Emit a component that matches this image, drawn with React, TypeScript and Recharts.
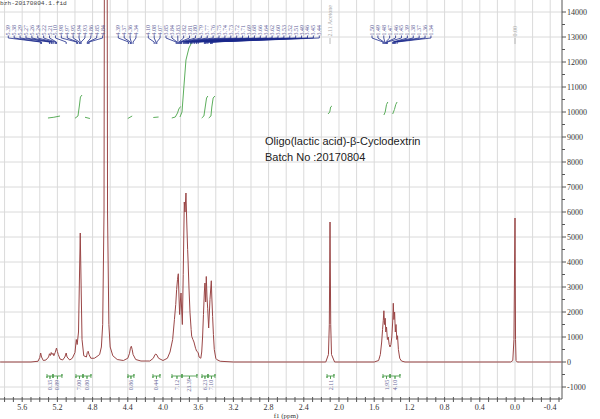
import React from 'react';
import { ComposedChart, Line, Scatter, XAxis, YAxis, CartesianGrid } from 'recharts';

// 1H NMR trace (ppm, descending)
const ppm = [
  5.85, 5.5, 5.42, 5.4, 5.39, 5.38, 5.36, 5.33, 5.3, 5.29, 5.28, 5.27, 5.26, 5.25, 5.24, 5.225,
  5.21, 5.2, 5.19, 5.17, 5.14, 5.115, 5.1, 5.09, 5.06, 5.03, 5.0, 4.985, 4.975, 4.96, 4.95,
  4.94, 4.93, 4.92, 4.9, 4.87, 4.86, 4.85, 4.84, 4.82, 4.78, 4.75, 4.72, 4.7, 4.685, 4.67,
  4.66, 4.65, 4.64, 4.63, 4.615, 4.6, 4.57, 4.52, 4.45, 4.4, 4.38, 4.37, 4.36, 4.35, 4.34,
  4.31, 4.25, 4.15, 4.11, 4.09, 4.08, 4.07, 4.05, 4.0, 3.95, 3.92, 3.89, 3.87, 3.855, 3.845,
  3.835, 3.826, 3.818, 3.811, 3.803, 3.795, 3.787, 3.78, 3.77, 3.758, 3.75, 3.739, 3.73, 3.72,
  3.716, 3.705, 3.693, 3.68, 3.674, 3.66, 3.648, 3.63, 3.617, 3.6, 3.59, 3.57, 3.56, 3.55,
  3.54, 3.53, 3.523, 3.515, 3.508, 3.5, 3.492, 3.481, 3.47, 3.466, 3.451, 3.445, 3.436, 3.427,
  3.417, 3.4, 3.39, 3.35, 3.2, 2.15, 2.12, 2.11, 2.102, 2.094, 2.085, 2.05, 1.6, 1.55, 1.53,
  1.515, 1.505, 1.497, 1.49, 1.483, 1.475, 1.468, 1.46, 1.45, 1.44, 1.43, 1.42, 1.41, 1.4,
  1.39, 1.383, 1.376, 1.368, 1.36, 1.352, 1.343, 1.335, 1.325, 1.31, 1.29, 1.25, 0.05, 0.025,
  0.012, 0.0, -0.006, -0.012, -0.025, -0.05, -0.53,
];
const intensity = [
  0, 0, 30, 180, 360, 200, 60, 80, 200, 330, 260, 380, 300, 350, 250, 380,
  560, 420, 300, 120, 80, 200, 360, 200, 80, 150, 380, 900, 700, 1200, 3200,
  5160, 3000, 900, 250, 200, 380, 430, 300, 150, 150, 220, 300, 600, 1500, 6000,
  30000, 60000, 30000, 6000, 1500, 600, 250, 100, 60, 150, 350, 550, 630, 500, 300,
  100, 40, 40, 150, 300, 320, 280, 150, 60, 150, 400, 900, 1700, 2300, 2900,
  3300, 3530, 2600, 1900, 2400, 2760, 2000, 1500, 3500, 6400, 6000, 6760, 5600, 4500,
  4160, 3000, 1970, 1300, 1030, 900, 800, 550, 430, 380, 200, 150, 400, 1000,
  1900, 2800, 3160, 2400, 3420, 2600, 2130, 1360, 2200, 2500, 3250, 2600, 1820, 1100,
  500, 150, 100, 30, 0, 0, 300, 1500, 5600, 1500, 300, 0, 0, 60, 300,
  800, 1300, 1650, 2050, 1500, 1750, 1200, 1400, 900, 1000, 700, 600, 700, 1000,
  1600, 2350, 1700, 2000, 1200, 1500, 900, 1050, 500, 150, 40, 0, 0, 60,
  900, 5760, 900, 60, 0, 0, 0,
];

// axis ticks
const xTicks = [
  5.8, 5.7, 5.6, 5.5, 5.4, 5.3, 5.2, 5.1, 5.0, 4.9, 4.8, 4.7, 4.6, 4.5, 4.4, 4.3, 4.2, 4.1,
  4.0, 3.9, 3.8, 3.7, 3.6, 3.5, 3.4, 3.3, 3.2, 3.1, 3.0, 2.9, 2.8, 2.7, 2.6, 2.5, 2.4, 2.3,
  2.2, 2.1, 2.0, 1.9, 1.8, 1.7, 1.6, 1.5, 1.4, 1.3, 1.2, 1.1, 1.0, 0.9, 0.8, 0.7, 0.6, 0.5,
  0.4, 0.3, 0.2, 0.1, 0.0, -0.1, -0.2, -0.3, -0.4, -0.5,
];
const gridPpm = [
  5.8, 5.6, 5.4, 5.2, 5.0, 4.8, 4.6, 4.4, 4.2, 4.0, 3.8, 3.6, 3.4, 3.2, 3.0, 2.8, 2.6, 2.4,
  2.2, 2.0, 1.8, 1.6, 1.4, 1.2, 1.0, 0.8, 0.6, 0.4, 0.2, 0.0, -0.2, -0.4,
];
const yTicks = [
  -1000, -500, 0, 500, 1000, 1500, 2000, 2500, 3000, 3500, 4000, 4500, 5000, 5500, 6000,
  6500, 7000, 7500, 8000, 8500, 9000, 9500, 10000, 10500, 11000, 11500, 12000, 12500, 13000,
  13500, 14000,
];
const gridY = [
  -1000, 0, 1000, 2000, 3000, 4000, 5000, 6000, 7000, 8000, 9000, 10000, 11000, 12000,
  13000, 14000,
];

// peak picking labels
const peakGroup1 = ['5.39', '5.38', '5.29', '5.27', '5.26', '5.24', '5.22', '5.21', '5.10', '4.98', '4.97', '4.95', '4.94', '4.93', '4.86', '4.85', '4.84'];
const peakGroup2 = ['4.39', '4.37', '4.36', '4.34'];
const peakGroup3 = ['4.10', '4.08', '4.07'];
const peakGroup4 = ['3.85', '3.84', '3.83', '3.82', '3.81', '3.80', '3.79', '3.77', '3.76', '3.75', '3.74', '3.73', '3.72', '3.71', '3.69', '3.68', '3.66', '3.64', '3.62', '3.60', '3.53', '3.52', '3.51', '3.49', '3.46', '3.45', '3.44'];
const peakGroup5 = ['1.50', '1.49', '1.48', '1.47', '1.46', '1.45', '1.39', '1.38', '1.37', '1.36', '1.34'];
const peakGroups = [peakGroup1, peakGroup2, peakGroup3, peakGroup4, peakGroup5];
// where each label column starts (ppm) and its spacing
const slotStarts = [5.758, 4.508, 4.167, 3.966, 1.625];
const slotStep = 0.067;

// single annotations
const noteText = ['2.11 Acetone', '0.00'];
const notePpm = [2.102, 0.0];

// integrals
const integralValues = ['0.35', '0.89', '7.00', '0.80', '0.86', '0.44', '7.12', '23.39', '6.23', '7.10', '2.11', '1.95', '4.10'];
const integralFrom = [5.318, 5.25, 4.989, 4.909, 4.398, 4.114, 3.898, 3.784, 3.557, 3.489, 2.136, 1.5, 1.42];
const integralTo = [5.25, 5.148, 4.909, 4.818, 4.33, 4.034, 3.784, 3.614, 3.489, 3.409, 2.057, 1.42, 1.307];

// integral traces [ppm, value]
const integralCurves = [
  [[5.307, 9760], [5.24, 9790], [5.17, 9840]],
  [[5.0, 9750], [4.966, 9840], [4.949, 10280], [4.938, 10600], [4.92, 10680]],
  [[4.886, 9790], [4.83, 9740]],
  [[4.4, 9740], [4.35, 9840]],
  [[4.11, 9780], [4.05, 9800]],
  [[3.9, 9760], [3.86, 9800], [3.835, 9960], [3.82, 10120], [3.8, 10220]],
  [[3.807, 9800], [3.784, 10000], [3.761, 11080], [3.739, 12080], [3.705, 12560], [3.659, 12880]],
  [[3.56, 9760], [3.535, 9840], [3.52, 10200], [3.505, 10560], [3.49, 10640]],
  [[3.48, 9760], [3.455, 9840], [3.445, 10200], [3.43, 10560], [3.41, 10640]],
  [[2.125, 9920], [2.105, 10000], [2.095, 10200], [2.08, 10240]],
  [[1.49, 9880], [1.475, 10000], [1.46, 10300], [1.445, 10400]],
  [[1.39, 9920], [1.37, 10100], [1.355, 10300], [1.34, 10400]],
];

const spectrum = ppm.map((p, i) => ({ x: p, y: intensity[i] }));

const SERIF = 'Liberation Serif';
const LABEL_Y = 13060;
const TICK_Y = 12960;
const MEET_Y = 12800;
const END_Y = 12720;
const BRACKET_Y = -560;

const XTick = (props: any) => {
  const { x, y, payload } = props;
  const v = payload.value as number;
  const major = Math.round(v * 10) % 4 === 0;
  return (
    <g>
      <line x1={x} x2={x} y1={y - 2} y2={y + 3} stroke="#555" strokeWidth={1} />
      {major && (
        <text x={x} y={y + 11} textAnchor="middle" fontSize={8} fontFamily={SERIF} fill="#333">
          {v.toFixed(1)}
        </text>
      )}
    </g>
  );
};

const YTick = (props: any) => {
  const { x, y, payload } = props;
  const v = payload.value as number;
  const major = v % 1000 === 0;
  return (
    <g>
      <line x1={x} x2={x + (major ? 4 : 3)} y1={y} y2={y} stroke="#555" strokeWidth={1} />
      {major && (
        <text x={x + 5} y={y} dy={3} fontSize={8} fontFamily={SERIF} fill="#333">
          {v}
        </text>
      )}
    </g>
  );
};

const VText = (color: string, size: number, anchor: string) => (p: any) => {
  const { cx, cy, payload } = p;
  if (cx == null || cy == null) return <g />;
  return (
    <text
      x={cx}
      y={cy}
      dy={2}
      transform={`rotate(-90 ${cx} ${cy})`}
      fontSize={size}
      fontFamily={SERIF}
      fill={color}
      textAnchor={anchor}
    >
      {payload.label}
    </text>
  );
};

const noShape = () => <g />;

export default function App() {
  const labelSeries: React.ReactNode[] = [];
  peakGroups.forEach((group, gi) => {
    const labelData = group.map((lab, i) => ({ x: slotStarts[gi] - i * slotStep, y: LABEL_Y, label: lab }));
    labelSeries.push(
      <Scatter
        key={`lab-${gi}`}
        data={labelData}
        shape={VText('#5a5a96', 6, 'start')}
        isAnimationActive={false}
      />
    );
    group.forEach((lab, i) => {
      const slot = slotStarts[gi] - i * slotStep;
      const peak = Number(lab);
      labelSeries.push(
        <Scatter
          key={`fan-${gi}-${i}`}
          data={[
            { x: slot, y: LABEL_Y },
            { x: slot, y: TICK_Y },
            { x: peak, y: MEET_Y },
            { x: peak, y: END_Y },
          ]}
          line={{ stroke: '#1c2a8c', strokeWidth: 0.8 }}
          shape={noShape}
          isAnimationActive={false}
        />
      );
    });
  });

  const noteSeries = noteText.map((t, i) => (
    <Scatter
      key={`note-${i}`}
      data={[{ x: notePpm[i], y: LABEL_Y - 40, label: t }]}
      shape={VText('#aaaaaa', 6, 'start')}
      isAnimationActive={false}
    />
  ));
  const noteLines = notePpm.map((p, i) => (
    <Scatter
      key={`noteline-${i}`}
      data={[{ x: p, y: TICK_Y }, { x: p, y: END_Y }]}
      line={{ stroke: '#aaaaaa', strokeWidth: 0.8 }}
      shape={noShape}
      isAnimationActive={false}
    />
  ));

  const brackets = integralValues.map((v, i) => {
    const a = integralFrom[i];
    const b = integralTo[i];
    const m = (a + b) / 2;
    return (
      <Scatter
        key={`br-${i}`}
        data={[
          { x: a, y: BRACKET_Y + 80 },
          { x: a, y: BRACKET_Y - 80 },
          { x: a, y: BRACKET_Y },
          { x: m, y: BRACKET_Y },
          { x: m, y: BRACKET_Y - 110 },
          { x: m, y: BRACKET_Y },
          { x: b, y: BRACKET_Y },
          { x: b, y: BRACKET_Y + 80 },
          { x: b, y: BRACKET_Y - 80 },
        ]}
        line={{ stroke: '#4e9e4e', strokeWidth: 0.9 }}
        shape={noShape}
        isAnimationActive={false}
      />
    );
  });
  const integralLabels = (
    <Scatter
      data={integralValues.map((v, i) => ({ x: (integralFrom[i] + integralTo[i]) / 2, y: -920, label: v }))}
      shape={VText('#6a6a9a', 6, 'middle')}
      isAnimationActive={false}
    />
  );

  return (
    <div style={{ position: 'absolute', left: 0, top: 0, width: 600, height: 419, background: '#fff' }}>
      <ComposedChart width={600} height={419} margin={{ top: 0, right: 0, bottom: 0, left: 0 }}>
        <CartesianGrid stroke="#dadada" strokeWidth={1} verticalValues={gridPpm} horizontalValues={gridY} />
        <XAxis
          dataKey="x"
          type="number"
          domain={[-0.534, 5.852]}
          reversed
          allowDataOverflow
          ticks={xTicks}
          interval={0}
          tick={<XTick />}
          tickLine={false}
          tickSize={0}
          tickMargin={0}
          height={20}
          axisLine={{ stroke: '#555' }}
          label={{ value: 'f1 (ppm)', position: 'insideBottom', offset: 1.5, dx: 5, fontSize: 7, fontFamily: SERIF, fill: '#333' }}
        />
        <YAxis
          dataKey="y"
          type="number"
          orientation="right"
          domain={[-1480, 14480]}
          allowDataOverflow
          ticks={yTicks}
          interval={0}
          tick={<YTick />}
          tickLine={false}
          tickSize={0}
          tickMargin={0}
          width={38}
          axisLine={{ stroke: '#555' }}
        />
        <Line
          data={spectrum}
          dataKey="y"
          type="linear"
          stroke="#9a4646"
          strokeWidth={1}
          dot={false}
          isAnimationActive={false}
        />
        {integralCurves.map((c, i) => (
          <Line
            key={`int-${i}`}
            data={c.map(([p, v]) => ({ x: p, y: v }))}
            dataKey="y"
            type="linear"
            stroke="#5cae5c"
            strokeWidth={1}
            dot={false}
            isAnimationActive={false}
          />
        ))}
        {labelSeries}
        {noteLines}
        {noteSeries}
        {brackets}
        {integralLabels}
      </ComposedChart>
      <div
        style={{
          position: 'absolute',
          left: 0,
          top: 1,
          fontFamily: 'Liberation Mono',
          fontSize: 6.2,
          lineHeight: 1,
          color: '#444',
          whiteSpace: 'nowrap',
        }}
      >
        bzh-20170804.1.fid
      </div>
      <div
        style={{
          position: 'absolute',
          left: 265,
          top: 133,
          fontFamily: 'Liberation Sans',
          fontSize: 11,
          lineHeight: '16px',
          color: '#222',
          whiteSpace: 'nowrap',
        }}
      >
        <div>Oligo(lactic acid)-β-Cyclodextrin</div>
        <div>Batch No :20170804</div>
      </div>
    </div>
  );
}
